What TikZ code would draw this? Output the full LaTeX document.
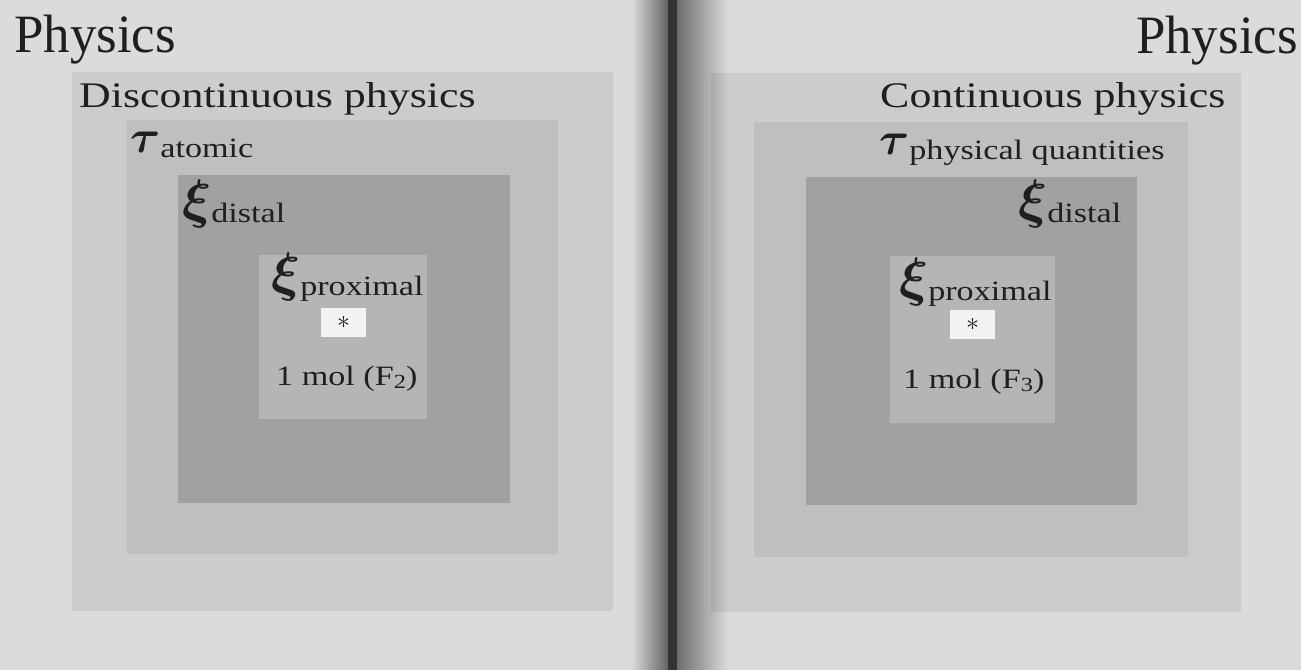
\documentclass[tikz,border=0pt]{standalone}
\usepackage{fix-cm}
\usepackage{bm}
\usepackage{fontspec}
\setmainfont{Liberation Serif}[FakeStretch=1.22]
\newfontfamily\titlefont{Liberation Serif}[FakeStretch=0.98]
\usetikzlibrary{fadings}
\definecolor{pagebg}{gray}{0.86}
\definecolor{outerbox}{gray}{0.80}
\definecolor{taubox}{gray}{0.75}
\definecolor{distalbox}{gray}{0.63}
\definecolor{proxbox}{gray}{0.71}
\definecolor{starbox}{gray}{0.95}
\definecolor{ink}{gray}{0.12}
\tikzfading[name=fadetoright, left color=transparent!100, right color=transparent!0]
\tikzfading[name=fadetoleft, left color=transparent!0, right color=transparent!100]
\newcommand\mylab[3]{{\fontsize{#3}{#3}\selectfont$\bm{#1}$}\raisebox{-5pt}{\fontsize{28}{28}\selectfont #2}}
\tikzset{
  lbl/.style={inner sep=0pt, anchor=base west, text=ink},
  title/.style={lbl, font=\titlefont\fontsize{54}{54}\selectfont},
  subtitle/.style={lbl, font=\fontsize{36}{36}\selectfont},
  small/.style={lbl, font=\fontsize{28}{28}\selectfont},
  starnode/.style={inner sep=0pt, fill=starbox, text=ink, minimum width=45pt, minimum height=29pt, font=\fontsize{26}{26}\selectfont}
}
\begin{document}
\begin{tikzpicture}[x=1pt,y=-1pt]
\useasboundingbox (0,0) rectangle (1301,670);
\fill[pagebg] (0,0) rectangle (1301,670);
% left page boxes
\fill[outerbox] (72,72) rectangle (613,611);
\fill[taubox] (127,120) rectangle (558,554);
\fill[distalbox] (178,175) rectangle (510,503);
\fill[proxbox] (259,255) rectangle (427,419);
% right page boxes
\fill[outerbox] (711,73) rectangle (1241,612);
\fill[taubox] (754,122) rectangle (1188,557);
\fill[distalbox] (806,177) rectangle (1137,505);
\fill[proxbox] (890,256) rectangle (1055,423);
% gutter
\fill[black, opacity=0.55, path fading=fadetoright] (632,0) rectangle (668,670);
\fill[black!80] (668,0) rectangle (677,670);
\fill[black, opacity=0.5, path fading=fadetoleft] (677,0) rectangle (728,670);
% left page texts
\node[title] (physL) at (14,52) {Physics};
\node[subtitle] (disc) at (79,107) {Discontinuous physics};
\node[lbl] (tauL) at (130,152) {\mylab{\tau}{atomic}{46}};
\node[lbl] (distL) at (182,217) {\mylab{\xi}{distal}{54}};
\node[lbl] (proxL) at (271,290) {\mylab{\xi}{proximal}{54}};
\node[starnode] (starL) at (343.5,322.5) {$\ast$};
\node[small] (molL) at (276,385) {1 mol (F\raisebox{-3pt}{\fontsize{20}{20}\selectfont 2})};
% right page texts
\node[title, anchor=base east] (physR) at (1298,53) {Physics};
\node[subtitle] (cont) at (880,107) {Continuous physics};
\node[lbl] (tauR) at (879,154) {\mylab{\tau}{physical quantities}{46}};
\node[lbl] (distR) at (1018,217) {\mylab{\xi}{distal}{54}};
\node[lbl] (proxR) at (899,295) {\mylab{\xi}{proximal}{54}};
\node[starnode] (starR) at (972.5,324.5) {$\ast$};
\node[small] (molR) at (903,388) {1 mol (F\raisebox{-3pt}{\fontsize{20}{20}\selectfont 3})};
\end{tikzpicture}
\end{document}
